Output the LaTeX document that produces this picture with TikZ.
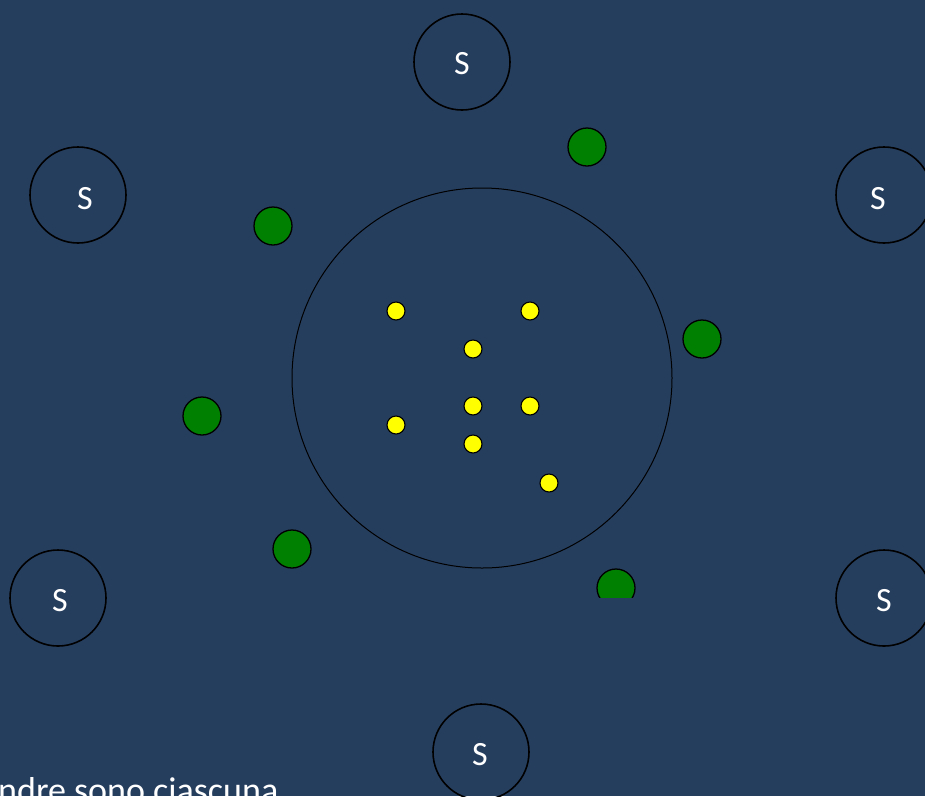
\documentclass[tikz,border=0pt]{standalone}
\usepackage{fontspec}
\setmainfont{Carlito}
\usetikzlibrary{positioning}
\definecolor{slatebg}{RGB}{38,62,94}
\definecolor{orbitgreen}{RGB}{0,128,0}
\definecolor{dotyellow}{RGB}{255,255,0}

\begin{document}
\begin{tikzpicture}[x=1pt,y=-1pt,
    sbox/.style={circle,draw=black,line width=1.6pt,minimum size=96pt,inner sep=0pt},
    slabel/.style={text=white,font=\fontsize{34}{34}\selectfont,inner sep=0pt},
    gball/.style={circle,draw=black,line width=1.3pt,fill=orbitgreen,minimum size=38pt,inner sep=0pt},
    ydot/.style={circle,draw=black,line width=1.1pt,fill=dotyellow,minimum size=18pt,inner sep=0pt}]
    \useasboundingbox (0,0) rectangle (925,796);
    \clip (0,0) rectangle (925,796);
    \fill[slatebg] (0,0) rectangle (925,796);
    % outer S circles
    \node[sbox] (stop) at (462,62) {};
    \node[sbox] (sul) at (78,195) {};
    \node[sbox] (sur) at (884,195) {};
    \node[sbox] (sll) at (58,598) {};
    \node[sbox] (slr) at (884,598) {};
    \node[sbox] (sbot) at (481,752) {};
    \node[slabel] (ltop) at (462,64) {S};
    \node[slabel] (lul) at (85,199) {S};
    \node[slabel] (lur) at (878,199) {S};
    \node[slabel] (lll) at (60,601) {S};
    \node[slabel] (llr) at (884,601) {S};
    \node[slabel] (lbot) at (480,755) {S};
    % central circle
    \node[circle,draw=black,line width=1pt,minimum size=380pt,inner sep=0pt] (core) at (482,378) {};
    % green balls
    \node[gball] (g1) at (587,147) {};
    \node[gball] (g2) at (273,226) {};
    \node[gball] (g3) at (702,339) {};
    \node[gball] (g4) at (202,416) {};
    \node[gball] (g5) at (292,549) {};
    \begin{scope}
      \clip (500,500) rectangle (700,597);
      \node[gball] (g6) at (616,588) {};
    \end{scope}
    % yellow dots
    \foreach \px/\py [count=\i] in {396/311,530/311,473/349,473/406,530/406,396/425,473/444,549/483}
      \node[ydot] (y\i) at (\px,\py) {};
    % cut text at the bottom
    \node[anchor=base west,text=white,font=\fontsize{36}{36}\selectfont,inner sep=0pt] (caption) at (-2,802) {ndre sono ciascuna};
\end{tikzpicture}
\end{document}
